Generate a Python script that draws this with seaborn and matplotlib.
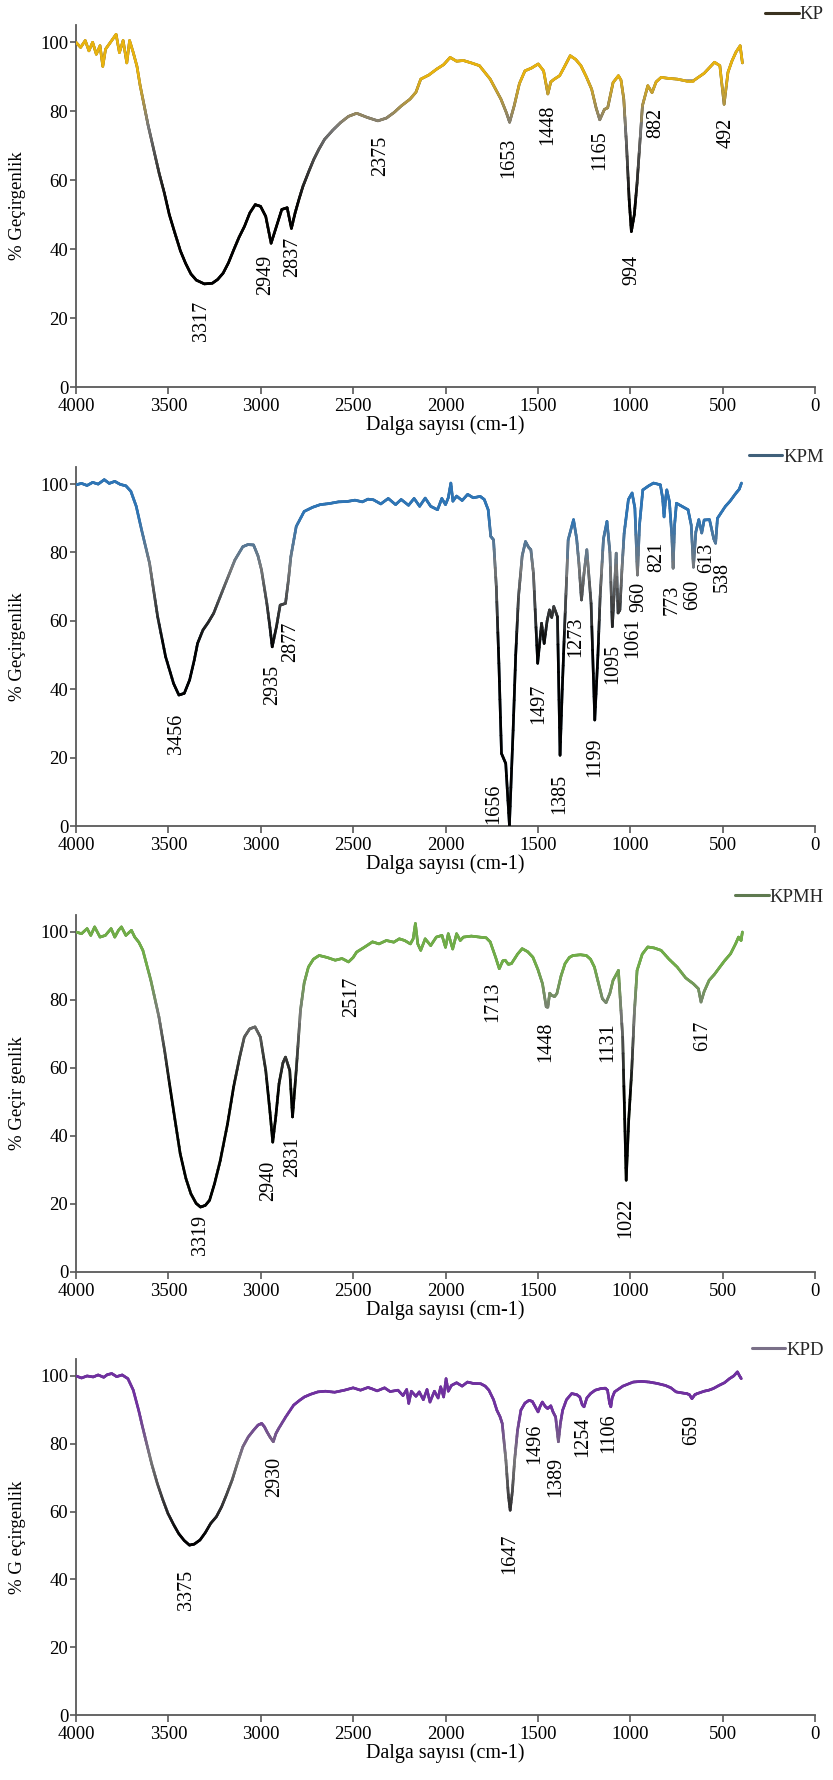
import numpy as np
import matplotlib
matplotlib.use("Agg")
import matplotlib.pyplot as plt
import seaborn as sns
import pandas as pd
from matplotlib.collections import LineCollection
from matplotlib.colors import LinearSegmentedColormap, Normalize

# ---------------- data ----------------
kp_wn = [4000, 3975, 3950, 3930, 3910, 3890, 3870, 3855, 3840, 3820, 3800, 3783, 3765, 3745, 3725, 3710,
         3690, 3670, 3653, 3638, 3610, 3580, 3550, 3522, 3495, 3465, 3435, 3407, 3378, 3349, 3305, 3262,
         3233, 3204, 3175, 3146, 3117, 3088, 3059, 3030, 3001, 2973, 2944, 2915, 2886, 2857, 2834, 2814,
         2790, 2771, 2740, 2713, 2685, 2655, 2610, 2568, 2525, 2481, 2424, 2366, 2320, 2279, 2240, 2192,
         2160, 2134, 2090, 2048, 2010, 1975, 1940, 1903, 1860, 1816, 1758, 1700, 1670, 1653, 1628, 1600,
         1570, 1535, 1498, 1469, 1446, 1430, 1411, 1382, 1355, 1325, 1295, 1267, 1238, 1209, 1185, 1165,
         1140, 1122, 1093, 1064, 1050, 1035, 1020, 1006, 994, 978, 963, 934, 905, 882, 860, 833, 790, 746,
         700, 659, 600, 544, 515, 492, 471, 450, 428, 405, 393]
kp_t = [100, 98.5, 100.5, 97.5, 100, 96.5, 99, 93, 98, 99.5, 101, 102.3, 97, 100.5, 94, 100.5,
        97, 93, 87.5, 83.5, 76, 69, 62, 56.3, 50, 44.7, 39.5, 35.9, 32.8, 31, 29.9, 30.1,
        31.2, 33, 36, 39.8, 43.5, 46.6, 50.5, 52.9, 52.4, 49.5, 41.7, 46.6, 51.5, 52, 46, 50.5,
        55, 58.3, 62.5, 66, 69, 71.8, 74.5, 76.7, 78.5, 79.4, 78.2, 77.2, 78, 79.6, 81.5, 83.5,
        85.5, 89.3, 90.5, 92.2, 93.5, 95.6, 94.5, 94.7, 94, 93.2, 89.3, 83.5, 79.5, 76.8, 81.6, 88,
        91.7, 92.5, 93.7, 91.7, 85, 88.5, 89.3, 90.3, 93, 96.1, 95, 93.2, 90, 86.4, 81, 77.5,
        80.5, 81, 88.3, 90.3, 89, 83.5, 70, 54.4, 45.1, 50, 59.2, 81.6, 87.4, 85.4, 88.5, 89.8, 89.5, 89.3,
        88.8, 88.8, 91, 94.2, 93.2, 82, 91.3, 94.5, 97.1, 99, 94]

kpm_wn = [4000, 3970, 3940, 3910, 3880, 3847, 3820, 3790, 3760, 3730, 3703, 3674, 3645, 3602, 3580, 3558,
          3515, 3472, 3443, 3414, 3385, 3360, 3342, 3313, 3285, 3255, 3198, 3140, 3097, 3070, 3039, 3015,
          2996, 2967, 2950, 2938, 2915, 2895, 2866, 2850, 2837, 2808, 2765, 2720, 2678, 2630, 2580, 2534,
          2490, 2450, 2420, 2390, 2350, 2310, 2270, 2240, 2200, 2170, 2140, 2110, 2080, 2043, 2020, 2000,
          1985, 1971, 1960, 1940, 1910, 1880, 1850, 1812, 1790, 1769, 1755, 1740, 1725, 1711, 1697, 1674,
          1654, 1634, 1620, 1605, 1585, 1567, 1550, 1538, 1524, 1501, 1480, 1466, 1450, 1437, 1425, 1414,
          1394, 1380, 1368, 1356, 1336, 1307, 1290, 1278, 1264, 1250, 1235, 1212, 1192, 1175, 1163, 1145,
          1126, 1110, 1097, 1085, 1076, 1066, 1056, 1045, 1033, 1010, 990, 975, 961, 950, 932, 900,
          874, 837, 825, 817, 808, 802, 788, 775, 768, 760, 750, 720, 687, 670, 658, 645,
          629, 613, 600, 571, 548, 538, 528, 485, 460, 427, 410, 398]
kpm_t = [99.8, 100.2, 99.6, 100.5, 100, 101.3, 100.2, 100.8, 99.9, 99.5, 97.9, 93.5, 86.6, 76.9, 69, 61.2,
         49.5, 41.7, 38.3, 38.8, 42.7, 48.5, 53.4, 57.3, 59.5, 62.2, 70, 77.8, 81.7, 82.3, 82.2, 79,
         74.9, 65.1, 58, 52.4, 58.3, 64.6, 65.1, 72, 78.8, 87.6, 92, 93.2, 94, 94.3, 94.8, 94.9,
         95.3, 94.8, 95.6, 95.4, 94.2, 95.8, 94, 95.5, 93.8, 95.8, 93.5, 95.9, 93.5, 92.5, 95.8, 94,
         96, 100.3, 95, 96.5, 95.2, 97, 96, 96.4, 95.5, 92.5, 84.7, 83.7, 70, 47.6, 21.2, 18.3,
         0.2, 28, 50, 67, 79, 83.2, 81.5, 80.8, 73.9, 47.6, 59.3, 53.4, 60, 63.2, 61, 64.2,
         61.2, 20.7, 40, 57.3, 83.7, 89.6, 84, 76.9, 66.1, 74, 80.8, 65.1, 31, 50, 67.1, 84,
         89.1, 80, 58.3, 70, 79.8, 62.3, 63.2, 75, 85.6, 95.5, 97.4, 93, 73.4, 88, 98.3, 99.5,
         100.3, 99.8, 96, 90.4, 96, 98.3, 94.9, 85, 75.4, 88, 94.4, 93.5, 92.5, 88, 75.7, 86,
         89.6, 85.7, 89.5, 89.6, 84, 82.7, 90, 93.5, 95, 97.4, 98.5, 100.3]

kpmh_wn = [4000, 3970, 3940, 3920, 3899, 3870, 3841, 3810, 3790, 3770, 3754, 3730, 3700, 3682, 3660, 3638,
           3595, 3551, 3520, 3494, 3465, 3436, 3405, 3378, 3350, 3326, 3300, 3277, 3250, 3219, 3180, 3147,
           3115, 3089, 3060, 3031, 3002, 2973, 2950, 2935, 2918, 2901, 2880, 2866, 2843, 2828, 2808, 2785,
           2765, 2742, 2715, 2684, 2640, 2597, 2560, 2525, 2500, 2481, 2440, 2395, 2360, 2320, 2280, 2250,
           2221, 2190, 2175, 2163, 2150, 2134, 2110, 2080, 2050, 2019, 2000, 1985, 1961, 1940, 1920, 1903,
           1860, 1816, 1780, 1758, 1729, 1709, 1690, 1677, 1660, 1643, 1610, 1585, 1555, 1527, 1500, 1475,
           1455, 1446, 1436, 1426, 1410, 1397, 1375, 1353, 1330, 1310, 1270, 1238, 1215, 1194, 1170, 1151,
           1131, 1110, 1093, 1064, 1041, 1030, 1022, 1008, 992, 978, 963, 935, 905, 870, 833, 790,
           746, 700, 659, 631, 617, 600, 573, 545, 515, 490, 457, 430, 414, 400, 393]
kpmh_t = [100, 99.5, 101, 99, 101.5, 98.5, 99, 101, 98.5, 100.5, 101.5, 99, 100.5, 98.5, 97, 94.6,
          85.8, 75, 65, 55.4, 45, 34.8, 27.5, 23, 20.2, 19.1, 19.6, 21.1, 26, 32.8, 43.5, 54.4,
          63, 69.1, 71.5, 72.1, 69.1, 59.3, 47, 38.2, 46, 55.4, 61.5, 63.2, 59.3, 45.6, 59.3, 77,
          85, 89.7, 92, 93.1, 92.5, 91.7, 92.2, 91.2, 92.5, 94.1, 95.5, 97.1, 96.5, 97.5, 97, 98,
          97.5, 96.5, 98, 102.5, 96.5, 94.6, 98, 96, 98.5, 99, 95.5, 99.5, 95, 99.5, 97.5, 98.5,
          98.8, 98.5, 98.3, 97.1, 92.6, 89.2, 91.5, 91.7, 90.5, 90.7, 93.5, 95.1, 94.2, 92.6, 89, 84.8,
          78, 77.9, 82, 81.4, 81, 81.9, 87, 90.7, 92.5, 93.1, 93.3, 93.1, 92, 89.7, 84.5, 80.4,
          79.2, 82, 85.8, 88.7, 69.1, 45, 27, 45, 59.3, 76, 88.7, 93.5, 95.6, 95.3, 94.6, 92,
          89.7, 86.5, 84.8, 83.3, 79.4, 82.5, 85.8, 87.5, 89.7, 91.5, 93.6, 96.5, 98.5, 97.5, 100]

kpd_wn = [4000, 3970, 3940, 3907, 3880, 3850, 3830, 3806, 3780, 3750, 3719, 3690, 3661, 3640, 3618, 3590,
          3560, 3530, 3502, 3470, 3444, 3415, 3386, 3360, 3329, 3300, 3271, 3240, 3212, 3185, 3155, 3125,
          3097, 3068, 3039, 3015, 2995, 2980, 2966, 2950, 2932, 2918, 2903, 2865, 2822, 2790, 2764, 2730,
          2691, 2650, 2600, 2547, 2500, 2460, 2420, 2402, 2370, 2330, 2300, 2257, 2230, 2210, 2199, 2185,
          2160, 2142, 2120, 2100, 2084, 2060, 2040, 2026, 2010, 1997, 1985, 1968, 1940, 1910, 1881, 1850,
          1809, 1785, 1765, 1740, 1722, 1705, 1693, 1673, 1660, 1650, 1638, 1626, 1610, 1592, 1570, 1548,
          1530, 1519, 1499, 1488, 1476, 1460, 1447, 1430, 1418, 1404, 1389, 1378, 1366, 1345, 1317, 1290,
          1273, 1260, 1250, 1235, 1215, 1190, 1158, 1135, 1123, 1112, 1105, 1098, 1085, 1040, 984, 940,
          897, 855, 810, 780, 752, 720, 695, 680, 666, 650, 637, 600, 575, 550, 520, 490,
          463, 440, 420, 408, 399]
kpd_t = [100, 99.4, 100, 99.7, 100.3, 99.6, 100.4, 100.7, 99.8, 100.3, 99.2, 95.8, 89.9, 85, 80.1, 74,
         68.3, 63.5, 59.4, 56, 53.5, 51.5, 50.1, 50.4, 51.6, 53.8, 56.5, 58.5, 61.4, 65, 69.3, 74.5,
         79.1, 82, 84, 85.5, 86, 85, 83.5, 82, 80.6, 83, 84.5, 87.9, 91.4, 92.8, 93.8, 94.6,
         95.3, 95.5, 95.2, 95.8, 96.5, 95.8, 96.6, 96.3, 95.6, 96.5, 95.4, 95.8, 94.2, 96, 91.9, 95.5,
         94, 95.3, 93, 96, 92.3, 95.5, 93.5, 96.8, 93.8, 99.2, 95.5, 97.2, 98, 97, 98.2, 97.8,
         97.7, 97, 95.8, 93, 89.9, 88, 86, 75.1, 65, 60.4, 66, 75.1, 84, 89.9, 92, 92.8,
         92.5, 91.4, 89.4, 91, 92.3, 91, 90.4, 91.2, 89.4, 87.9, 80.6, 86, 89.9, 93, 94.8, 94.5,
         93.8, 91.5, 90.9, 93.5, 94.8, 95.8, 96.3, 96.4, 95.8, 92, 90.9, 93.5, 95.3, 97, 98.2, 98.4,
         98.2, 97.8, 97.2, 96.5, 95.3, 95, 94.8, 94.5, 93.3, 94.5, 94.8, 95.5, 95.8, 96.3, 97.2, 98,
         99.2, 100, 101.2, 100, 99.2]

series_names = ["KP", "KPM", "KPMH", "KPD"]
y_labels = ["% Geçirgenlik", "% Geçirgenlik", "% Geçir genlik", "% G eçirgenlik"]
x_label = "Dalga sayısı (cm-1)"
x_ticks = [0, 500, 1000, 1500, 2000, 2500, 3000, 3500, 4000]
y_ticks = [0, 20, 40, 60, 80, 100]

kp_peaks = ["3317", "2949", "2837", "2375", "1653", "1448", "1165", "994", "882", "492"]
kpm_peaks = ["3456", "2935", "2877", "1656", "1497", "1385", "1273", "1199", "1095", "1061",
             "960", "821", "773", "660", "613", "538"]
kpmh_peaks = ["3319", "2940", "2831", "2517", "1713", "1448", "1131", "1022", "617"]
kpd_peaks = ["3375", "2930", "1647", "1496", "1389", "1254", "1106", "659"]

# ---------------- layout / style ----------------
# label anchor (x in cm-1, top of text in % units)
kp_lpos = [(3320, 25), (2973, 38.3), (2828, 43.7), (2351, 72.8), (1657, 72.3), (1446, 82),
           (1165, 74.3), (992, 38.3), (862, 81), (480, 78.2)]
kpm_lpos = [(3457, 32.9), (2938, 47), (2837, 59.8), (1740, 12.4), (1495, 41.7), (1380, 15.3),
            (1293, 61.2), (1192, 26), (1097, 53.4), (985, 60.8), (952, 71.3), (855, 83),
            (774, 70.5), (660, 71.9), (584, 82.7), (503, 77.2)]
kpmh_lpos = [(3326, 16.7), (2958, 32.8), (2828, 39.7), (2510, 86.8), (1744, 85.3), (1455, 73.5),
             (1122, 73.5), (1022, 22), (607, 74)]
kpd_lpos = [(3400, 42.7), (2923, 76.1), (1650, 53.5), (1519, 86), (1404, 76.1), (1259, 87.9),
            (1114, 88.9), (666, 88.4)]

colors = ["#E8B30F", "#2E75B6", "#70AD47", "#7030A0"]
legend_colors = ["#3a3220", "#40607a", "#5f7a50", "#7a7088"]
legend_dy = [0.028, 0.028, 0.05, 0.025]

W, H = 833, 1780
left = 76 / W
width = (815 - 76) / W
rects = []
for top_px, zero_px in [(25, 387), (467, 826), (915, 1272), (1359, 1715)]:
    rects.append([left, 1 - zero_px / H, width, (zero_px - top_px) / H])

sns.set_theme(style="ticks")
plt.rcParams["font.family"] = ["Liberation Serif", "DejaVu Serif"]
plt.rcParams["axes.edgecolor"] = "#595959"
FS = 13.5
FS_LAB = 14.5
LW = 1.9

fig = plt.figure(figsize=(W / 100, H / 100), dpi=100)
fig.patch.set_facecolor("white")

data = [(kp_wn, kp_t, kp_peaks, kp_lpos), (kpm_wn, kpm_t, kpm_peaks, kpm_lpos),
        (kpmh_wn, kpmh_t, kpmh_peaks, kpmh_lpos), (kpd_wn, kpd_t, kpd_peaks, kpd_lpos)]

norm = Normalize(0, 105)
for i, (wn, tr, peaks, lpos) in enumerate(data):
    ax = fig.add_axes(rects[i])
    ax.set_facecolor("white")
    df = pd.DataFrame({"wn": wn, "T": tr})
    sns.lineplot(data=df, x="wn", y="T", ax=ax, color=legend_colors[i], lw=LW,
                 sort=False, estimator=None, label=series_names[i], zorder=2)

    cmap = LinearSegmentedColormap.from_list(
        "g%d" % i, [(0, "black"), (0.50, "black"), (0.72, "#7a7a7a"), (0.86, colors[i]), (1, colors[i])])
    pts = np.column_stack([df["wn"].to_numpy(float), df["T"].to_numpy(float)])
    segs, vals = [], []
    nsub = 5
    for a, b in zip(pts[:-1], pts[1:]):
        for k in range(nsub):
            p0 = a + (b - a) * k / nsub
            p1 = a + (b - a) * (k + 1) / nsub
            segs.append([p0, p1])
            vals.append((p0[1] + p1[1]) / 2)
    lc = LineCollection(segs, colors=cmap(norm(np.array(vals))), linewidths=LW,
                        capstyle="round", joinstyle="round", zorder=3)
    ax.add_collection(lc)

    for txt, (lx, ly) in zip(peaks, lpos):
        ax.text(lx, ly, txt, rotation=90, ha="center", va="top", fontsize=FS_LAB, color="black")

    ax.set_xlim(4000, 0)
    ax.set_ylim(0, 105)
    ax.set_xticks(x_ticks)
    ax.set_yticks(y_ticks)
    ax.set_xlabel(x_label, fontsize=FS_LAB, labelpad=0, color="black")
    ax.set_ylabel(y_labels[i], fontsize=FS, labelpad=10, color="black")
    sns.despine(ax=ax)
    for s in ["left", "bottom"]:
        ax.spines[s].set_linewidth(1.3)
    ax.tick_params(axis="x", direction="out", length=5, width=1.2, pad=3, labelsize=FS,
                   colors="#595959", labelcolor="black")
    ax.tick_params(axis="y", direction="out", length=4, width=1.2, pad=1.5, labelsize=FS,
                   colors="#595959", labelcolor="black")
    leg = ax.legend(loc="center right", bbox_to_anchor=(1.012, 1 + legend_dy[i]), frameon=False,
                    fontsize=FS, handlelength=1.8, handletextpad=0.05, borderaxespad=0, borderpad=0)
    for h in leg.get_lines():
        h.set_linewidth(2.2)

fig.savefig("out.png", dpi=100)
